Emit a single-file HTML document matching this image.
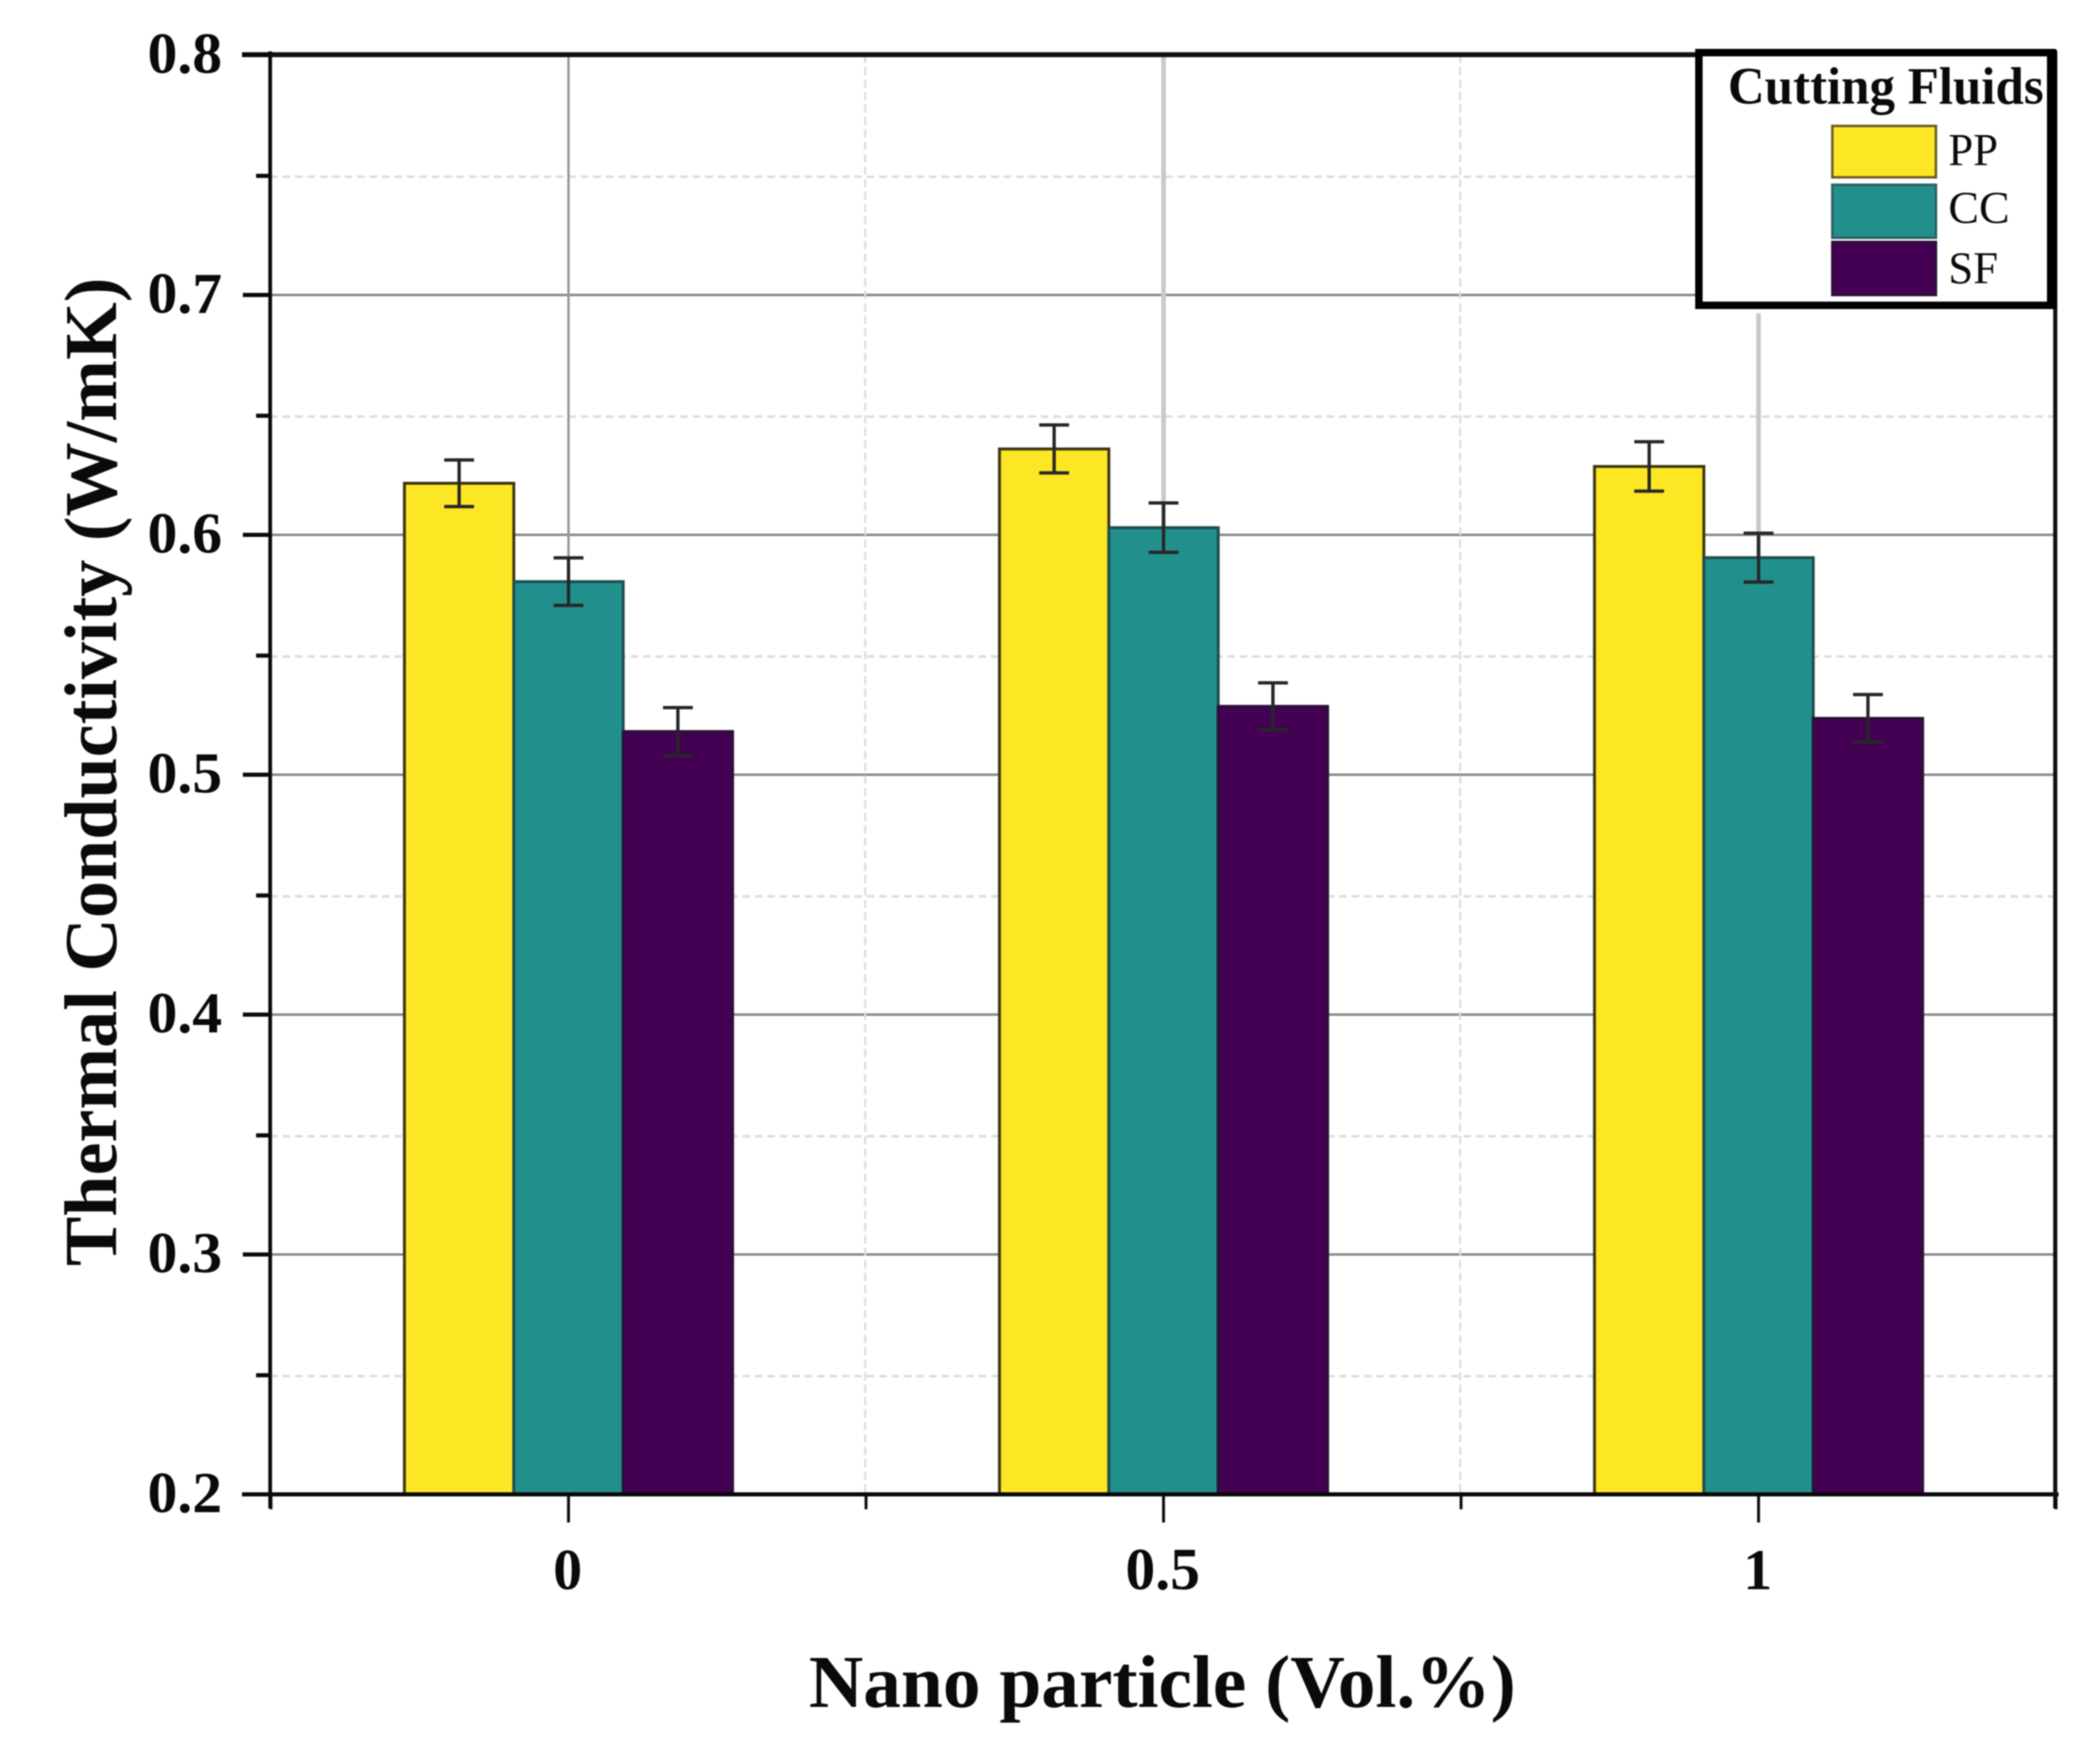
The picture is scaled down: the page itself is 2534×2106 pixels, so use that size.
<!DOCTYPE html>
<html lang="en">
<head>
<meta charset="utf-8">
<title>Thermal Conductivity vs Nano particle</title>
<style>
  html, body { margin: 0; padding: 0; background: #fff; }
  body { width: 2534px; height: 2106px; overflow: hidden; }
  svg { display: block; filter: blur(0.7px); }
  text { font-family: "Liberation Serif", "Times New Roman", serif; fill: #0a0a0a; }
  .b { font-weight: bold; }
</style>
</head>
<body>
<svg id="chart" xmlns="http://www.w3.org/2000/svg" width="2534" height="2106" viewBox="0 0 2534 2106">
  <rect x="0" y="0" width="2534" height="2106" fill="#ffffff"/>
  <g id="grid"></g>
  <g id="bars"></g>
  <g id="errors"></g>
  <g id="axes"></g>
  <g id="labels"></g>
  <text class="b" transform="translate(140,1528) rotate(-90)" font-size="90" textLength="1193" lengthAdjust="spacingAndGlyphs">Thermal Conductivity (W/mK)</text>
  <text class="b" x="976" y="2060" font-size="90" textLength="853" lengthAdjust="spacingAndGlyphs">Nano particle (Vol.%)</text>
  <g id="legend">
    <rect x="2050" y="63.5" width="426" height="305" fill="#ffffff" stroke="#000000" stroke-width="9"/>
    <rect x="2470" y="60" width="12" height="313" fill="#000"/>
    <text class="b" x="2085" y="125" font-size="63" textLength="381" lengthAdjust="spacingAndGlyphs">Cutting Fluids</text>
    <rect x="2211" y="152" width="125" height="62" fill="#fde725" stroke="#6a5e20" stroke-width="3"/>
    <text x="2351" y="199" font-size="55" textLength="60" lengthAdjust="spacingAndGlyphs">PP</text>
    <rect x="2211" y="223" width="125" height="64" fill="#21908c" stroke="#2f5f64" stroke-width="3"/>
    <text x="2351" y="269" font-size="55" textLength="74" lengthAdjust="spacingAndGlyphs">CC</text>
    <rect x="2211" y="292" width="125" height="64" fill="#440154" stroke="#2a1036" stroke-width="3"/>
    <text x="2351" y="342" font-size="55" textLength="60" lengthAdjust="spacingAndGlyphs">SF</text>
  </g>
</svg>
<script>
const categories = ['0', '0.5', '1'];
const seriesNames = ['PP', 'CC', 'SF'];
const ppValues = [0.6215, 0.6358, 0.6285];
const ccValues = [0.5805, 0.6030, 0.5905];
const sfValues = [0.5180, 0.5285, 0.5235];
const ppErrors = [0.0097, 0.0100, 0.0103];
const ccErrors = [0.0099, 0.0103, 0.0102];
const sfErrors = [0.0100, 0.0098, 0.0099];
const yMajorTicks = [0.2, 0.3, 0.4, 0.5, 0.6, 0.7, 0.8];
const yMinorTicks = [0.25, 0.35, 0.45, 0.55, 0.65, 0.75];
const yTickLabels = ['0.2', '0.3', '0.4', '0.5', '0.6', '0.7', '0.8'];
const xMinorTicks = [-0.5, 0.5, 1.5, 2.5];

const seriesValues = [ppValues, ccValues, sfValues];
const seriesErrors = [ppErrors, ccErrors, sfErrors];
const seriesFill = ['#fde725', '#21908c', '#440154'];
const seriesStroke = ['#3a3510', '#1d4f50', '#2a1036'];

const NS = 'http://www.w3.org/2000/svg';
const PLOT_LEFT = 326, PLOT_RIGHT = 2480;
const yAxis = v => 66.5 + (0.8 - v) * 2895;
const xAxis = i => 686 + i * 718;
const BAR_W = 132;
const BASE = yAxis(0.2);

function node(parent, tag, props, text) {
  const el = document.createElementNS(NS, tag);
  for (const k in props) el.setAttribute(k, props[k]);
  if (text !== undefined) el.textContent = text;
  document.getElementById(parent).appendChild(el);
  return el;
}

/* grid */
yMinorTicks.forEach(v => {
  const g = node('grid', 'line', {x1: PLOT_LEFT, x2: PLOT_RIGHT, y1: yAxis(v) + 2, y2: yAxis(v) + 2, stroke: '#dcdcdc', 'stroke-width': 3, 'stroke-dasharray': '9 6'});
  
  
});
yMajorTicks.forEach(v => {
  if (v === 0.2 || v === 0.8) return;
  const g = node('grid', 'line', {x1: PLOT_LEFT, x2: PLOT_RIGHT, y1: yAxis(v), y2: yAxis(v), stroke: '#8a8a8a', 'stroke-width': 3});
  
  
});
xMinorTicks.slice(1, 3).forEach(i => {
  const g = node('grid', 'line', {x1: xAxis(i) - 1, x2: xAxis(i) - 1, y1: 66, y2: BASE, stroke: '#dcdcdc', 'stroke-width': 2.5, 'stroke-dasharray': '10 5'});
  
  
});
categories.forEach((c, i) => {
  const g = node('grid', 'line', {x1: xAxis(i), x2: xAxis(i), y1: i === 2 ? 378 : 66, y2: BASE, stroke: i === 0 ? '#999999' : '#c8c8c8', 'stroke-width': i === 0 ? 3 : 5.5});
  
  
});

/* bars and error bars */
seriesNames.forEach((name, s) => {
  categories.forEach((c, i) => {
    const v = seriesValues[s][i];
    const e = seriesErrors[s][i];
    const cx = xAxis(i) + (s - 1) * BAR_W;
    const bar = node('bars', 'rect', {x: cx - BAR_W / 2, y: yAxis(v), width: BAR_W, height: BASE - yAxis(v), fill: seriesFill[s], stroke: seriesStroke[s], 'stroke-width': 3.5});
    
    
    const stem = node('errors', 'line', {x1: cx, x2: cx, y1: yAxis(v + e), y2: yAxis(v - e), stroke: '#262626', 'stroke-width': 4});
    
    
    const capTop = node('errors', 'line', {x1: cx - 18, x2: cx + 18, y1: yAxis(v + e), y2: yAxis(v + e), stroke: '#262626', 'stroke-width': 4});
    
    
    const capBottom = node('errors', 'line', {x1: cx - 18, x2: cx + 18, y1: yAxis(v - e), y2: yAxis(v - e), stroke: '#262626', 'stroke-width': 4});
    
    
  });
});

/* axes */
const leftAxis = node('axes', 'line', {x1: PLOT_LEFT, x2: PLOT_LEFT, y1: 62, y2: BASE + 17, stroke: '#0a0a0a', 'stroke-width': 4.5});


const bottomAxis = node('axes', 'line', {x1: 292, x2: 2484, y1: BASE, y2: BASE, stroke: '#0a0a0a', 'stroke-width': 5});


const topAxis = node('axes', 'line', {x1: 292, x2: 2482, y1: 66, y2: 66, stroke: '#111111', 'stroke-width': 6});


const rightAxis = node('axes', 'line', {x1: PLOT_RIGHT, x2: PLOT_RIGHT, y1: 62, y2: BASE + 17, stroke: '#111111', 'stroke-width': 5});



yMajorTicks.forEach((v, i) => {
  const t = node('axes', 'line', {x1: 293, x2: PLOT_LEFT, y1: yAxis(v), y2: yAxis(v), stroke: '#0a0a0a', 'stroke-width': 5});
  
  
  const l = node('labels', 'text', {x: 178, y: yAxis(v) + 21.5, 'font-size': 70, class: 'b', textLength: 90, lengthAdjust: 'spacingAndGlyphs'}, yTickLabels[i]);
  
  
});
yMinorTicks.forEach(v => {
  const t = node('axes', 'line', {x1: 309, x2: PLOT_LEFT, y1: yAxis(v) + 1, y2: yAxis(v) + 1, stroke: '#0a0a0a', 'stroke-width': 5});
  
  
});
categories.forEach((c, i) => {
  const t = node('axes', 'line', {x1: xAxis(i), x2: xAxis(i), y1: BASE, y2: BASE + 34, stroke: '#0a0a0a', 'stroke-width': 3.5});
  
  
  const l = node('labels', 'text', {x: xAxis(i) - 1, y: 1918, 'text-anchor': 'middle', 'font-size': c.length > 1 ? 72 : 70, class: 'b'}, c);
  
  
});
xMinorTicks.forEach(i => {
  const t = node('axes', 'line', {x1: xAxis(i), x2: xAxis(i), y1: BASE, y2: BASE + 18, stroke: '#0a0a0a', 'stroke-width': 3.5});
  
  
});
</script>
</body>
</html>
